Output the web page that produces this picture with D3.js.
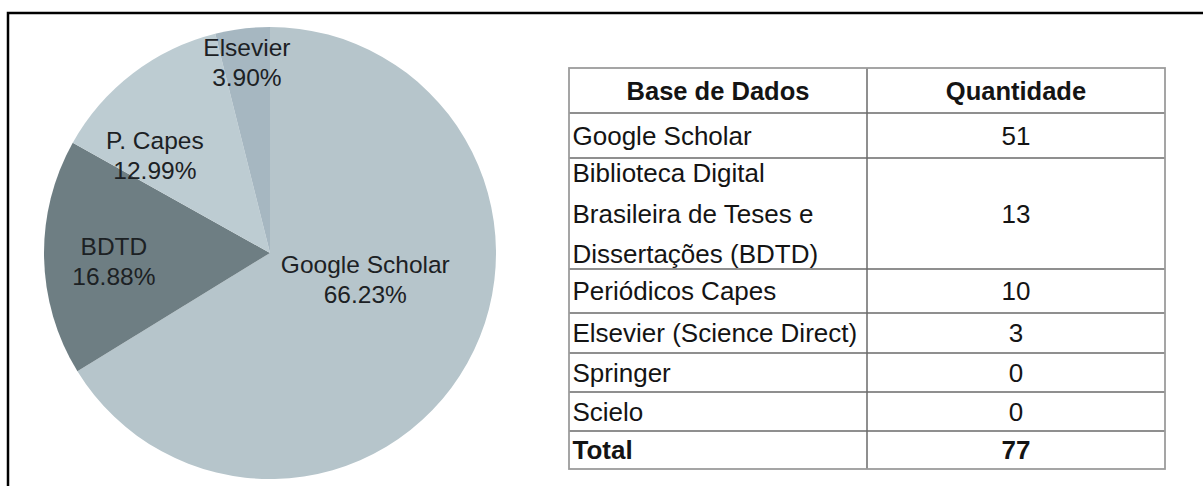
<!DOCTYPE html>
<html>
<head>
<meta charset="utf-8">
<script src="https://cdn.jsdelivr.net/npm/d3@7"></script>
<style>
  html, body { margin: 0; padding: 0; background: #fff; }
  svg { display: block; font-family: "Liberation Sans", Arial, sans-serif; }
</style>
</head>
<body>
<svg id="chart" width="1203" height="486"></svg>
<script>
// ---- data ----
const pieCategories = ["Google Scholar", "BDTD", "P. Capes", "Elsevier"];
const pieValues = [51, 13, 10, 3];
const pieColors = ["#b6c5cb", "#6e7e83", "#bdccd2", "#a6b7c1"];

const tableHeader = ["Base de Dados", "Quantidade"];
const tableCategories = [
  ["Google Scholar"],
  ["Biblioteca Digital", "Brasileira de Teses e", "Dissertações (BDTD)"],
  ["Periódicos Capes"],
  ["Elsevier (Science Direct)"],
  ["Springer"],
  ["Scielo"]
];
const tableValues = [51, 13, 10, 3, 0, 0];
const totalLabel = "Total";

// ---- layout ----
const svg = d3.select("#chart");
const W = 1203, H = 486;

// frame
svg.append("path")
  .attr("d", `M8,${H} L8,13 L${W},13`)
  .attr("fill", "none")
  .attr("stroke", "#000")
  .attr("stroke-width", 2.5);

// ---- pie ----
const cx = 270, cy = 253, R = 226;
const total = d3.sum(pieValues);
const pie = d3.pie().sort(null).value(d => d);
const arcs = pie(pieValues);
const arc = d3.arc().innerRadius(0).outerRadius(R);
const labelArc = d3.arc().innerRadius(R * 0.62).outerRadius(R * 0.62);
const labelNudge = [[-27, -48], [-16, -1], [-30, 7], [-6, -58]];

const gPie = svg.append("g").attr("transform", `translate(${cx},${cy})`);
gPie.selectAll("path.slice")
  .data(arcs)
  .join("path")
  .attr("class", "slice")
  .attr("d", arc)
  .attr("fill", (d, i) => pieColors[i]);

const fmt = v => (v / total * 100).toFixed(2) + "%";
const lbl = gPie.selectAll("text.lbl")
  .data(arcs)
  .join("text")
  .attr("class", "lbl")
  .attr("text-anchor", "middle")
  .attr("font-size", 24.5)
  .attr("fill", "#1c2124")
  .attr("transform", (d, i) => {
    const c = labelArc.centroid(d);
    return `translate(${c[0] + labelNudge[i][0]},${c[1] + labelNudge[i][1]})`;
  });
lbl.append("tspan").attr("x", 0).attr("y", 0).text((d, i) => pieCategories[i]);
lbl.append("tspan").attr("x", 0).attr("y", 30).text(d => fmt(d.value));

// ---- table ----
const tX0 = 569, tX1 = 867, tX2 = 1165, tY0 = 68;
const rowHeights = [45, 45, 111, 44, 40, 39, 39, 38];
const rows = [
  { lines: [tableHeader[0]], value: tableHeader[1], bold: true, header: true },
  ...tableCategories.map((lines, i) => ({ lines, value: String(tableValues[i]), bold: false })),
  { lines: [totalLabel], value: String(d3.sum(tableValues)), bold: true }
];
let y = tY0;
rows.forEach((r, i) => { r.y0 = y; r.h = rowHeights[i]; y += r.h; });
const tY1 = y;

const gT = svg.append("g");
const fs = 26;
const lineGap = 40.5;

rows.forEach(r => {
  const mid = r.y0 + r.h / 2;
  const n = r.lines.length;
  const firstBase = mid - (n - 1) * lineGap / 2 + fs * 0.36;
  const t = gT.append("text")
    .attr("font-size", r.header ? 25.5 : fs)
    .attr("font-weight", r.bold ? "bold" : "normal")
    .attr("fill", "#141414")
    .attr("text-anchor", r.header ? "middle" : "start");
  r.lines.forEach((ln, k) => {
    t.append("tspan")
      .attr("x", r.header ? (tX0 + tX1) / 2 : tX0 + 3.5)
      .attr("y", firstBase + k * lineGap)
      .text(ln);
  });
  gT.append("text")
    .attr("x", (tX1 + tX2) / 2)
    .attr("y", mid + fs * 0.36)
    .attr("text-anchor", "middle")
    .attr("font-size", r.header ? 25.5 : fs)
    .attr("font-weight", r.bold ? "bold" : "normal")
    .attr("fill", "#141414")
    .text(r.value);
});

// inner lines
rows.slice(1).forEach(r => {
  gT.append("line")
    .attr("x1", tX0).attr("x2", tX2)
    .attr("y1", r.y0).attr("y2", r.y0)
    .attr("stroke", "#6a6a6a").attr("stroke-width", 1.5);
});
gT.append("line")
  .attr("x1", tX1).attr("x2", tX1)
  .attr("y1", tY0).attr("y2", tY1)
  .attr("stroke", "#6a6a6a").attr("stroke-width", 1.5);
// outer border
gT.append("rect")
  .attr("x", tX0).attr("y", tY0)
  .attr("width", tX2 - tX0).attr("height", tY1 - tY0)
  .attr("fill", "none")
  .attr("stroke", "#9c9c9c").attr("stroke-width", 1.8);
</script>
</body>
</html>
